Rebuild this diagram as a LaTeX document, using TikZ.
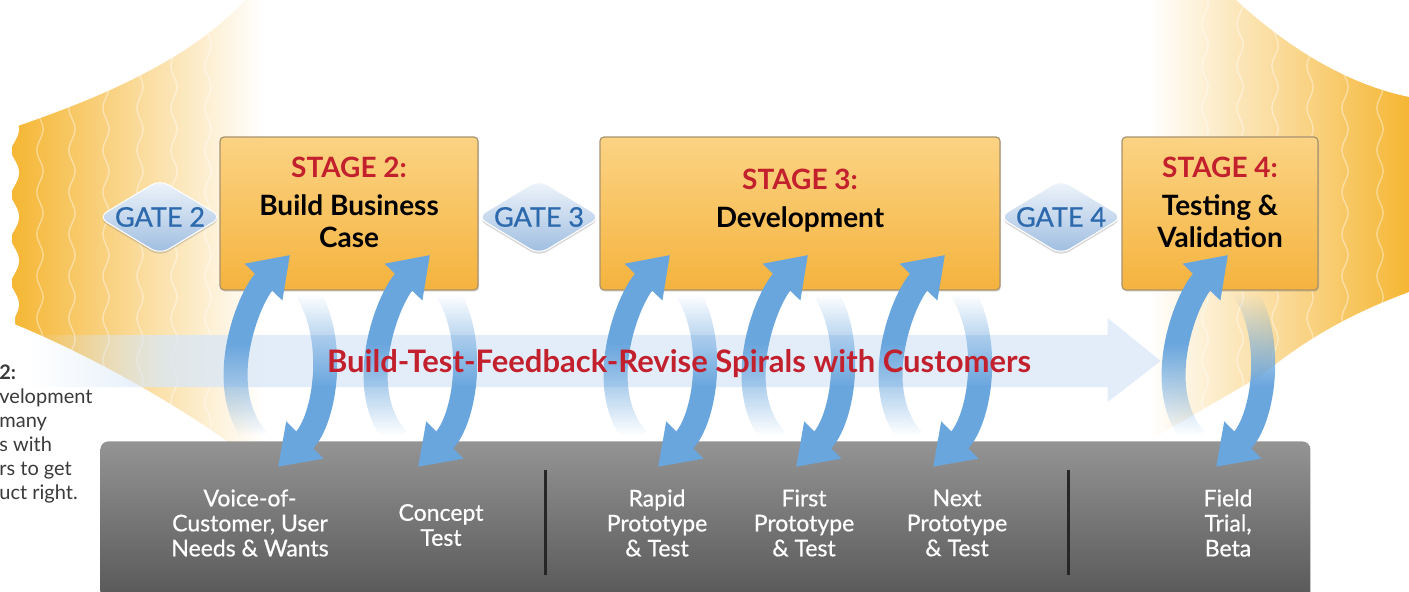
\documentclass[tikz,border=0pt]{standalone}
\usepackage{fontspec}
\setmainfont{Lato}
\newfontfamily\medfont[FakeBold=0.7]{Lato}
\usetikzlibrary{arrows.meta,shapes.geometric,shadows,fadings,decorations.pathmorphing}

\definecolor{stagered}{HTML}{C3202E}
\definecolor{gateblue}{HTML}{2C69AD}
\definecolor{gatetop}{HTML}{F0F5FB}
\definecolor{gatebottom}{HTML}{9DBCE0}
\definecolor{boxtop}{HTML}{FBD384}
\definecolor{boxbottom}{HTML}{F5B33E}
\definecolor{boxedge}{HTML}{A8926E}
\definecolor{loopblue}{HTML}{6AA6DE}
\definecolor{bandblue}{HTML}{D8E7F7}
\definecolor{glowyellow}{HTML}{F5B633}
\definecolor{bartop}{HTML}{949494}
\definecolor{barbottom}{HTML}{575757}
\definecolor{notegray}{HTML}{3A3A3A}

\begin{tikzfadingfrompicture}[name=fadebottom]
\fill[transparent!100] (-200bp,-200bp) rectangle (200bp,-21bp);
\shade[top color=transparent!0, bottom color=transparent!100] (-200bp,-21bp) rectangle (200bp,1bp);
\fill[transparent!0] (-200bp,1bp) rectangle (200bp,200bp);
\end{tikzfadingfrompicture}
\begin{tikzfadingfrompicture}[name=fadetop]
\fill[transparent!0] (-200bp,-200bp) rectangle (200bp,-2bp);
\shade[top color=transparent!100, bottom color=transparent!0] (-200bp,-2bp) rectangle (200bp,21bp);
\fill[transparent!100] (-200bp,21bp) rectangle (200bp,200bp);
\end{tikzfadingfrompicture}
\begin{tikzfadingfrompicture}[name=fadeleftend]
\fill[transparent!100] (-200bp,-200bp) rectangle (-25bp,200bp);
\shade[left color=transparent!100, right color=transparent!0] (-25bp,-200bp) rectangle (-19bp,200bp);
\fill[transparent!0] (-19bp,-200bp) rectangle (200bp,200bp);
\end{tikzfadingfrompicture}

\begin{document}
\begin{tikzpicture}[x=0.5pt, y=-0.5pt,
  stagebox/.style={draw=boxedge, line width=0.6pt, rounded corners=2pt, top color=boxtop, bottom color=boxbottom,
    minimum height=76.5pt, drop shadow={opacity=0.25, shadow xshift=0.5pt, shadow yshift=-0.8pt}},
  stagetext/.style={anchor=north, inner sep=0pt, align=center, font=\bfseries\fontsize{14}{16}\selectfont},
  gate/.style={diamond, aspect=1.65, inner sep=0pt, minimum width=62pt, minimum height=37.5pt, rounded corners=5pt,
    top color=gatetop, bottom color=gatebottom, draw=white, line width=0.5pt, text=gateblue,
    font=\medfont\fontsize{13.5}{15}\selectfont, drop shadow={opacity=0.3, shadow xshift=0pt, shadow yshift=-1.2pt}},
  steptext/.style={text=white, align=center, inner sep=0pt, font=\medfont\fontsize{11.5}{12.5}\selectfont},
  upturn/.style={loopblue, line width=12pt, -{Triangle[width=25pt,length=19pt]}, path fading=fadebottom},
  downturn/.style={loopblue, line width=12pt, -{Triangle[width=25pt,length=19pt]}, path fading=fadetop},
  glowstripe/.style={white, opacity=0.4, line width=0.7pt, decorate, decoration={snake, amplitude=1.6pt, segment length=21pt}},
  notetext/.style={text=notegray, align=left, inner sep=0pt, font=\fontsize{10}{12}\selectfont}]

\useasboundingbox (0,0) rectangle (1409,591);
\clip (0,0) rectangle (1409,591);

\shade[left color=glowyellow, middle color=glowyellow!60!white, right color=white, path picture={
    \foreach \x in {40,72,106,140,174,208} \draw[glowstripe] (\x,-10) -- (\x,470);}]
  (12,128) .. controls (100,98) and (190,60) .. (245,0) -- (262,0) -- (262,450) -- (240,450)
  .. controls (170,400) and (90,355) .. (12,323) -- cycle;
\draw[white, line width=5pt, decorate, decoration={snake, amplitude=2pt, segment length=22pt}] (10,115) -- (10,335);
\shade[left color=white, middle color=glowyellow!60!white, right color=glowyellow, path picture={
    \foreach \x in {1205,1240,1275,1310,1345,1380} \draw[glowstripe] (\x,-10) -- (\x,470);}]
  (1150,0) -- (1236,0) .. controls (1290,50) and (1350,85) .. (1409,97) -- (1409,292)
  .. controls (1360,310) and (1310,335) .. (1262,375) -- (1150,440) -- cycle;

\fill[bandblue, fill opacity=0.75, path fading=fadeleftend] (30,335) -- (1112,335) -- (1112,318) -- (1165,361)
  -- (1112,402) -- (1112,387) -- (30,387) -- cycle;

\node[anchor=north west, minimum width=605pt, minimum height=80pt, rounded corners=4pt,
  top color=bartop, bottom color=barbottom] (bar) at (100,441) {};
\draw[black!85, line width=1.5pt] (545,470) -- (545,575);
\draw[black!85, line width=1.5pt] (1068,470) -- (1068,575);

\node[stagebox, minimum width=129pt] (stage2) at (349,213.5) {};
\node[stagebox, minimum width=200pt] (stage3) at (800,213.5) {};
\node[stagebox, minimum width=98pt] (stage4) at (1220,213.5) {};

\node[gate] (gate2) at (160,217) {GATE 2};
\node[gate] (gate3) at (539,217) {GATE 3};
\node[gate] (gate4) at (1061,217) {GATE 4};

\foreach \u in {290,430,670,808,945,1228}{
  \draw[downturn, shift={(\u,0)}] (16,290) .. controls (48,340) and (35,420) .. (-12,467);
  \draw[upturn, shift={(\u,0)}] (-32,440) .. controls (-78,390) and (-42,298) .. (0,255);
}

\node[stagetext] (stage2txt) at (349,157) {\textcolor{stagered}{STAGE 2:}\\[3pt]Build Business\\Case};
\node[stagetext] (stage3txt) at (800,169) {\textcolor{stagered}{STAGE 3:}\\[3pt]Development};
\node[stagetext] (stage4txt) at (1220,157) {\textcolor{stagered}{STAGE 4:}\\[3pt]Testing \&\\Validation};

\node[steptext] (voc) at (250,523) {Voice-of-\\Customer, User\\Needs \& Wants};
\node[steptext] (concept) at (441,525) {Concept\\Test};
\node[steptext] (rapid) at (657,523) {Rapid\\Prototype\\\& Test};
\node[steptext] (first) at (804,523) {First\\Prototype\\\& Test};
\node[steptext] (next) at (957,523) {Next\\Prototype\\\& Test};
\node[steptext] (field) at (1228,523) {Field\\Trial,\\Beta};

\node[text=stagered, font=\bfseries\fontsize{15.5}{18}\selectfont] (spirals) at (679,364)
  {Build-Test-Feedback-Revise Spirals with Customers};

\node[notetext, anchor=north west] (note) at (-1,364) {\textbf{2:}\\velopment\\many\\s with\\rs to get\\uct right.};
\end{tikzpicture}
\end{document}
